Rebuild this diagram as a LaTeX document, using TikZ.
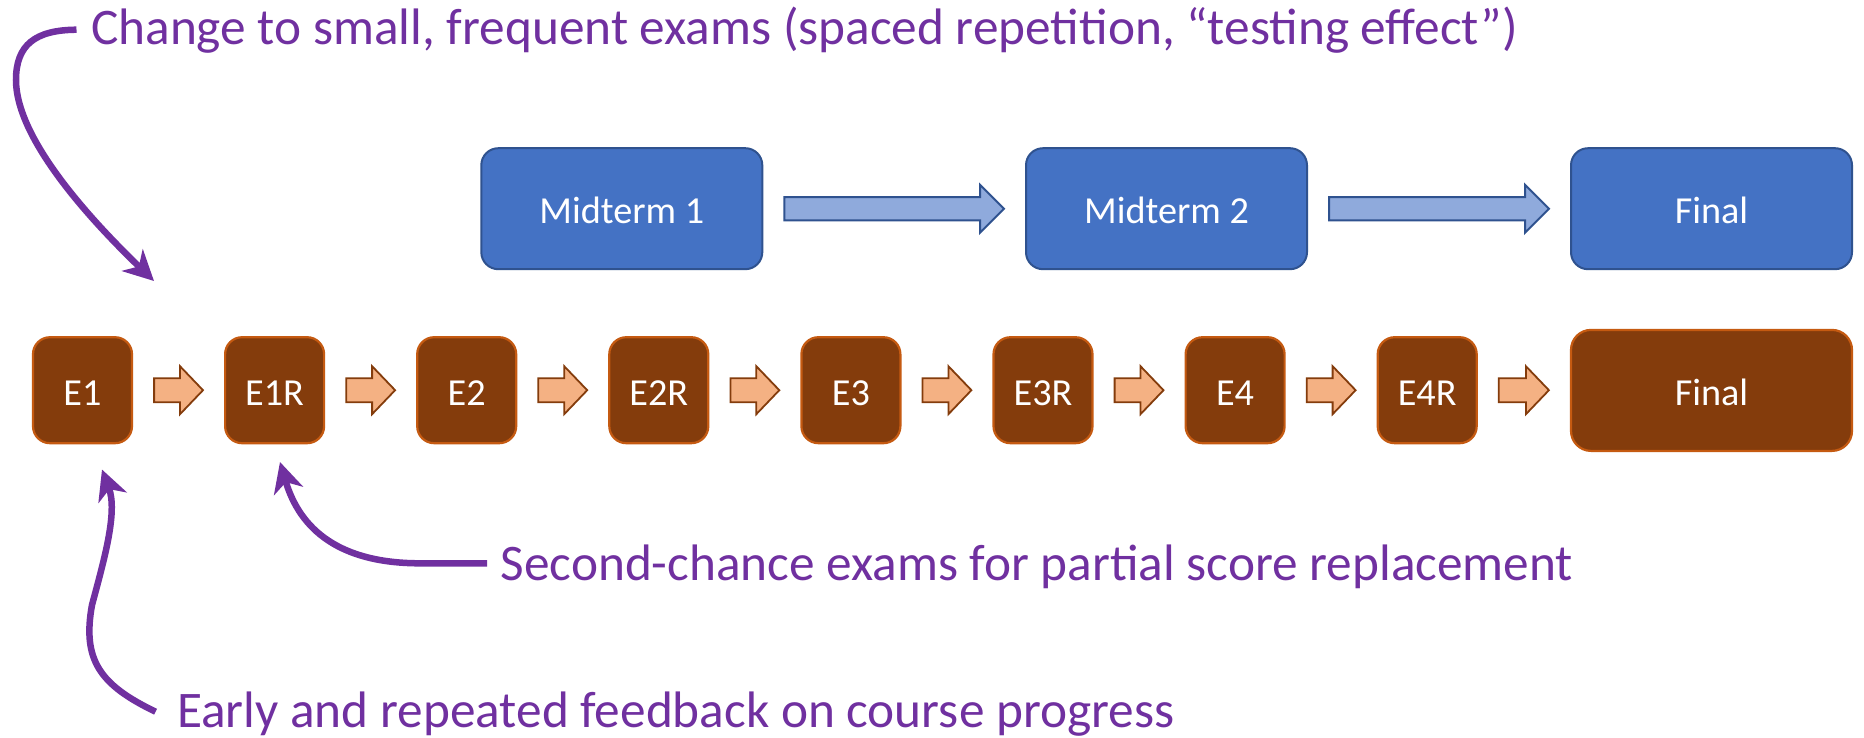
\documentclass[tikz,border=0pt]{standalone}
\usepackage{fontspec}
\setmainfont{Carlito}
\usetikzlibrary{arrows.meta,calc}

\definecolor{notepurple}{HTML}{7030A0}
\definecolor{midfill}{HTML}{4472C4}
\definecolor{midline}{HTML}{2F528F}
\definecolor{flowblue}{HTML}{8FAADC}
\definecolor{examfill}{HTML}{843C0C}
\definecolor{examline}{HTML}{C55A11}
\definecolor{flowpeach}{HTML}{F4B183}

% block arrow: #1 style, #2 tail point, #3 tip point,
% #4 half shaft width, #5 half head width, #6 head length
\newcommand{\blockarrow}[6]{%
  \draw[#1] let \p1=(#2), \p2=(#3) in
    (\x1,\y1+#4) -- (\x2-#6,\y1+#4) -- (\x2-#6,\y1+#5) -- (\x2,\y1) --
    (\x2-#6,\y1-#5) -- (\x2-#6,\y1-#4) -- (\x1,\y1-#4) -- cycle;}

\begin{document}
\begin{tikzpicture}[x=1pt,y=-1pt,
  midbox/.style={draw=midline, fill=midfill, line width=2pt,
    rounded corners=17pt, minimum width=281pt, minimum height=121pt,
    inner sep=0pt, text=white, font=\fontsize{38.2}{45}\selectfont,
    text height=30.2pt, text depth=0pt},
  exambox/.style={draw=examline, fill=examfill, line width=2.2pt,
    rounded corners=17pt, minimum width=99pt, minimum height=106pt,
    inner sep=0pt, text=white, font=\fontsize{38.2}{45}\selectfont,
    text height=30.2pt, text depth=0pt},
  finalexam/.style={exambox, minimum width=281pt, minimum height=121pt,
    rounded corners=20pt},
  bluearrow/.style={draw=midline, fill=flowblue, line width=2pt},
  peacharrow/.style={draw=examfill, fill=flowpeach, line width=1.8pt},
  note/.style={text=notepurple, font=\fontsize{51.3}{61}\selectfont,
    inner sep=0pt, anchor=base west},
  callout/.style={draw=notepurple, line width=6.5pt,
    -{Stealth[length=30pt, width=30pt, inset=9pt]}},
]
\fill[white] (0,0) rectangle (1864,737);
\useasboundingbox (0,0) rectangle (1864,737);

% upper row: traditional schedule
\node[midbox] (mid1) at (621.8,208.7) {Midterm 1};
\node[midbox] (mid2) at (1166.5,208.7) {Midterm 2};
\node[midbox] (finA) at (1711.5,208.7) {Final};

% lower row: frequent exams and retakes
\foreach \lbl [count=\i] in {E1,E1R,E2,E2R,E3,E3R,E4,E4R}
  \node[exambox] (e\i) at ({82.5+192.1*(\i-1)},390.2) {\lbl};
\node[finalexam] (finB) at (1711.5,390.4) {Final};

% flow arrows
\blockarrow{bluearrow}{$(mid1.east)+(21,0)$}{$(mid2.west)+(-21,0)$}{11.7pt}{24pt}{24pt}
\blockarrow{bluearrow}{$(mid2.east)+(21,0)$}{$(finA.west)+(-21,0)$}{11.7pt}{24pt}{24pt}
\foreach \a/\b in {e1/e2,e2/e3,e3/e4,e4/e5,e5/e6,e6/e7,e7/e8,e8/finB}{%
  \blockarrow{peacharrow}{$(\a.east)+(21,0)$}{$(\b.west)+(-21,0)$}{12pt}{24pt}{23pt}}

% annotations
\node[note] (tTop) at (91,44.7)
  {Change to small, frequent exams (spaced repetition, “testing effect”)};
\node[note] (tSecond) at (500.5,580)
  {Second-chance exams for partial score replacement};
\node[note] (tEarly) at (177,727.7)
  {Early and repeated feedback on course progress};

\coordinate (sTop) at ($(tTop.base west)+(-14.5,-15)$);
\coordinate (sSecond) at ($(tSecond.base west)+(-13.3,-16.7)$);
\coordinate (sEarly) at ($(tEarly.base west)+(-21.4,-16)$);
\coordinate (pTop) at (154,281);
\coordinate (pSecond) at (280,462);
\coordinate (pEarly) at (102,469.5);

\draw[callout] (sTop) .. controls (35,30) and (16,45) .. (16,80)
  .. controls (16,130) and (70,200) .. (pTop);
\draw[callout] (sSecond) -- (420,563.3)
  .. controls (340,563.3) and (300,530) .. (pSecond);
\draw[callout] (sEarly) .. controls (100,685) and (82,660) .. (92,605)
  .. controls (104,560) and (118,512) .. (pEarly);
\end{tikzpicture}
\end{document}
